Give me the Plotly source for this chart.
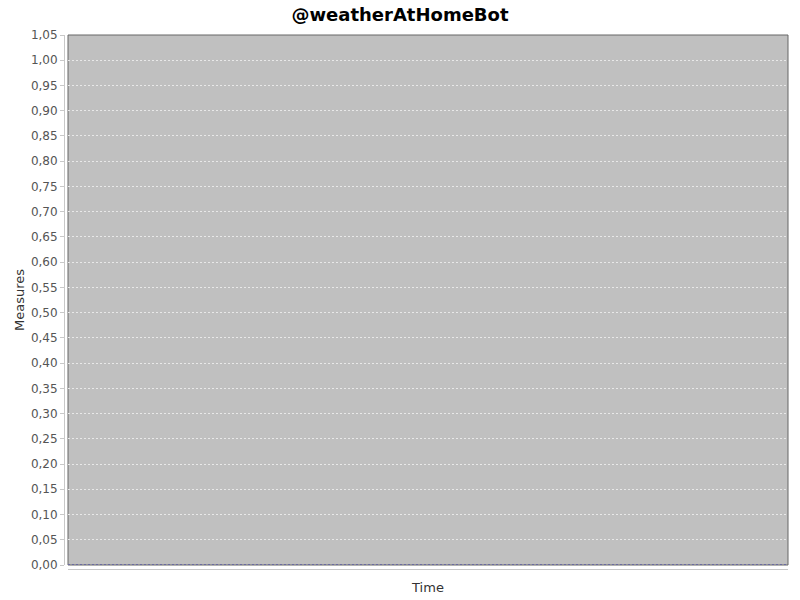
import plotly.graph_objects as go

title_text = "@weatherAtHomeBot"
x_label = "Time"
y_label = "Measures"
y_ticks = [round(i * 0.05, 2) for i in range(22)]
series_x = [0, 1]
series_y = [0, 0]

W, H = 800, 600
l, r, t, b = 64, 12, 35, 31
pw, ph = W - l - r, H - t - b
xd0 = 4 / pw
yd0 = 4 / ph

fig = go.Figure()
fig.add_trace(go.Scatter(x=series_x, y=series_y, mode="lines",
                         line=dict(color="#6a6aa0", width=2, dash="2px,2px"),
                         showlegend=False, hoverinfo="skip", cliponaxis=False))

font = "DejaVu Sans, Tahoma, sans-serif"
fig.update_layout(
    width=W, height=H,
    margin=dict(l=l, r=r, t=t, b=b, autoexpand=False),
    paper_bgcolor="white",
    plot_bgcolor="#c0c0c0",
    separators=",.",
    title=dict(text="<b>" + title_text + "</b>", x=0.5, xref="container",
               xanchor="center",
               y=1 - 15 / H, yanchor="middle",
               font=dict(family=font, size=18, color="black")),
    xaxis=dict(domain=[xd0, 1], range=[0, 1], showgrid=False, zeroline=False,
               showticklabels=False, ticks="", anchor="free", position=0,
               automargin=False,
               showline=True, linecolor="#c8c8c8", linewidth=1,
               title=dict(text=x_label, standoff=13,
                          font=dict(family=font, size=13, color="#333"))),
    yaxis=dict(domain=[yd0, 1], range=[0, 1.05], anchor="free", position=0,
               automargin=False,
               tickvals=y_ticks, tickformat=".2f",
               showgrid=True, gridcolor="#e8e8e8", griddash="2px,2px", gridwidth=1,
               zeroline=False, showline=True, linecolor="#c8c8c8", linewidth=1,
               ticks="outside", ticklen=4, tickcolor="#c8c8c8",
               tickfont=dict(family=font, size=12, color="#555"),
               title=dict(text=y_label, standoff=2,
                          font=dict(family=font, size=13, color="#333"))),
    shapes=[dict(type="rect", xref="x domain", yref="y domain",
                 x0=0, x1=1, y0=0, y1=1, line=dict(color="#666", width=1),
                 fillcolor="rgba(0,0,0,0)", layer="below")],
)
fig.write_html("out.html")
